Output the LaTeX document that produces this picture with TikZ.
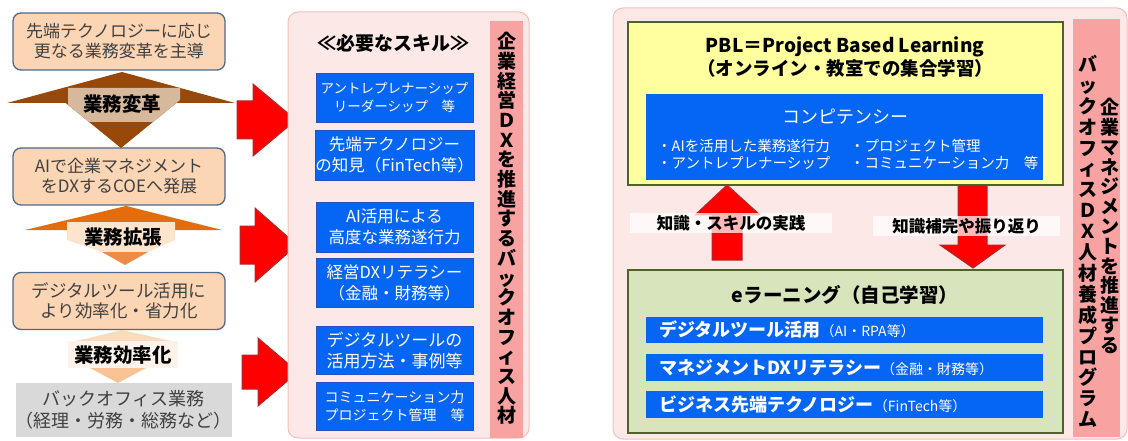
\documentclass[tikz,border=0pt]{standalone}
\usepackage{fontspec}
\setmainfont{Noto Sans CJK JP}
\definecolor{peach}{RGB}{252,213,180}
\definecolor{boxborder}{RGB}{79,105,140}
\definecolor{darktext}{RGB}{64,64,64}
\definecolor{brownA}{RGB}{152,72,8}
\definecolor{tanA}{RGB}{214,184,156}
\definecolor{orangeA}{RGB}{228,108,10}
\definecolor{orangeB}{RGB}{236,140,70}
\definecolor{lightpeach}{RGB}{253,228,205}
\definecolor{paleA}{RGB}{251,218,190}
\definecolor{paleB}{RGB}{254,243,235}
\definecolor{paleC}{RGB}{250,195,150}
\definecolor{grayfill}{RGB}{217,217,217}
\definecolor{arrowred}{RGB}{255,0,0}
\definecolor{arrowborder}{RGB}{175,40,40}
\definecolor{pinkpanel}{RGB}{253,232,232}
\definecolor{pinkborder}{RGB}{244,190,190}
\definecolor{pinkbar}{RGB}{249,162,162}
\definecolor{skillblue}{RGB}{5,102,245}
\definecolor{blueborder}{RGB}{40,80,190}
\definecolor{pblyellow}{RGB}{255,255,160}
\definecolor{olivec}{RGB}{79,98,40}
\definecolor{greenfill}{RGB}{216,228,188}
\newcommand{\fsz}[2]{\fontsize{#1}{#2}\selectfont}
\begin{document}
\begin{tikzpicture}[x=1pt,y=-1pt,
  lbox/.style={draw=boxborder, line width=1.3pt, fill=peach, rounded corners=8pt,
    minimum width=212pt, minimum height=57pt, align=center, text=darktext, inner sep=0pt},
  graybox/.style={fill=grayfill, minimum width=213pt, minimum height=54pt, align=center,
    text=darktext, inner sep=0pt},
  armlabel/.style={font=\bfseries\fsz{19.5}{22}, text=black, inner sep=0pt},
  panel/.style={fill=pinkpanel, draw=pinkborder, line width=1pt, rounded corners=10pt, inner sep=0pt},
  vbar/.style={fill=pinkbar, inner sep=0pt},
  vtxt/.style={align=center, inner sep=0pt, font=\bfseries\fsz{19}{19.7}, text=black},
  bluebox/.style={fill=skillblue, draw=blueborder, line width=0.5pt, minimum width=157pt,
    minimum height=49pt, align=center, text=white, inner sep=0pt},
  redarrow/.style={fill=arrowred, draw=arrowborder, line width=1pt, line join=miter},
  olivebox/.style={draw=olivec, line width=2pt, minimum width=435pt, minimum height=163pt, inner sep=0pt},
  bluebar/.style={fill=skillblue, minimum height=27pt, text width=371pt, inner xsep=13pt,
    inner ysep=0pt, align=left, text=white},
  klabel/.style={fill=white, fill opacity=0.72, text opacity=1, font=\bfseries\fsz{16.5}{18},
    text=black, inner sep=0pt}
]
\useasboundingbox (0,0) rectangle (1128,441);

% ---------------- left column ----------------
\node[lbox, font=\fsz{17}{20}] (b1) at (119,41.5) {先端テクノロジーに応じ\\更なる業務変革を主導};
\node[lbox, font=\fsz{17}{20}] (b2) at (119,176.5) {AIで企業マネジメント\\をDXするCOEへ発展};
\node[lbox, font=\fsz{17.5}{20.5}] (b3) at (119,301) {デジタルツール活用に\\より効率化・省力化};
\node[graybox, font=\fsz{18}{22}] (b4) at (123.5,410) {バックオフィス業務\\（経理・労務・総務など）};

% group 1 (brown)
\fill[brownA] (7,103) -- (122,72) -- (235,103) -- cycle;
\fill[brownA] (62,100) -- (180,100) -- (121,148) -- cycle;
\fill[tanA] (68,88) -- (180,88) -- (180,100) -- (153,122) -- (89,122) -- (68,105) -- cycle;
\node[armlabel] (t1) at (122,104) {業務変革};

% group 2 (orange)
\fill[orangeA] (25,230) -- (126,206) -- (222,230) -- cycle;
\fill[lightpeach] (67,222) -- (175,222) -- (175,240) -- (148,252) -- (102,252) -- (67,240) -- cycle;
\fill[orangeB] (102,252) -- (148,252) -- (125,265) -- cycle;
\node[armlabel] (t2) at (123,237) {業務拡張};

% group 3 (pale)
\fill[paleA] (72,342) -- (122,330) -- (176,342) -- cycle;
\fill[paleB] (68,341) rectangle (178,368);
\fill[paleC] (90,368) -- (146,368) -- (118,383) -- cycle;
\node[armlabel] (t3) at (123,355) {業務効率化};

% red right arrows
\draw[redarrow] (237,101) -- (253,101) -- (253,84) -- (296,120) -- (253,156) -- (253,139) -- (237,139) -- cycle;
\draw[redarrow] (240,226) -- (255,226) -- (255,208) -- (297,245) -- (255,282) -- (255,264) -- (240,264) -- cycle;
\draw[redarrow] (242,355) -- (258,355) -- (258,338) -- (298,372) -- (258,406) -- (258,389) -- (242,389) -- cycle;

% ---------------- middle panel ----------------
\node[panel, minimum width=241pt, minimum height=426pt] (mp) at (408.5,225) {};
\node[vbar, minimum width=33pt, minimum height=416pt] (mbar) at (506.5,229.5) {};
\node[vtxt] (mbartxt) at (506.5,228.5) {企\\業\\経\\営\\Ｄ\\Ｘ\\を\\推\\進\\す\\る\\バ\\ッ\\ク\\オ\\フ\\ィ\\ス\\人\\材};
\node[font=\bfseries\fsz{19}{22}, inner sep=0pt] (skills) at (393,43) {≪必要なスキル≫};

\node[bluebox, font=\fsz{13.5}{18}] (s1) at (394.5,97.5) {アントレプレナーシップ\\リーダーシップ　等};
\node[bluebox, font=\fsz{16.5}{21}, minimum height=50pt] (s2) at (394.5,155) {先端テクノロジー\\の知見（FinTech等）};
\node[bluebox, font=\fsz{16.5}{21}, minimum height=50pt] (s3) at (394.5,227) {AI活用による\\高度な業務遂行力};
\node[bluebox, font=\fsz{16.5}{21}] (s4) at (394.5,282.5) {経営DXリテラシー\\（金融・財務等）};
\node[bluebox, font=\fsz{17}{21}, minimum height=48pt] (s5) at (394.5,350) {デジタルツールの\\活用方法・事例等};
\node[bluebox, font=\fsz{14}{18}, minimum height=48pt] (s6) at (394.5,406) {コミュニケーション力\\プロジェクト管理　等};

% ---------------- right panel ----------------
\node[panel, minimum width=514pt, minimum height=431pt] (rp) at (870,223.5) {};
\node[vbar, minimum width=47pt, minimum height=418pt] (rbar) at (1096.5,228) {};
\node[vtxt, font=\bfseries\fsz{19}{20.9}] (rbarL) at (1088,241.5) {バ\\ッ\\ク\\オ\\フ\\ィ\\ス\\Ｄ\\Ｘ\\人\\材\\養\\成\\プ\\ロ\\グ\\ラ\\ム};
\node[vtxt, font=\bfseries\fsz{19}{19.8}] (rbarR) at (1110,226) {企\\業\\マ\\ネ\\ジ\\メ\\ン\\ト\\を\\推\\進\\す\\る};

% PBL box
\node[olivebox, fill=pblyellow] (pbl) at (845.5,103.5) {};
\node[font=\bfseries\fsz{19}{21}, inner sep=0pt] (pblt1) at (845,47) {PBL＝Project Based Learning};
\node[font=\bfseries\fsz{18.5}{21}, inner sep=0pt] (pblt2) at (845,68) {（オンライン・教室での集合学習）};
\node[fill=skillblue, minimum width=397pt, minimum height=86pt, inner sep=0pt] (comp) at (844.5,137) {};
\node[font=\fsz{18}{20}, text=white, inner sep=0pt] (compt) at (845,117) {コンピテンシー};
\node[font=\fsz{14.5}{17}, text=white, align=left, anchor=west, inner sep=0pt] (compL) at (657,154.5) {・AIを活用した業務遂行力\\・アントレプレナーシップ};
\node[font=\fsz{14.5}{17}, text=white, align=left, anchor=west, inner sep=0pt] (compR) at (850,154.5) {・プロジェクト管理\\・コミュニケーション力　等};

% e-learning box
\node[olivebox, fill=greenfill] (el) at (845.5,351.5) {};
\node[font=\bfseries\fsz{19.5}{22}, inner sep=0pt] (elt) at (845,295) {eラーニング（自己学習）};
\node[bluebar, minimum height=26pt] (e1) at (844.5,330) {{\bfseries\fsz{18}{20}デジタルツール活用}{\fsz{14}{16}（AI・RPA等）}};
\node[bluebar] (e2) at (844.5,367.5) {{\bfseries\fsz{18}{20}マネジメントDXリテラシー}{\fsz{14}{16}（金融・財務等）}};
\node[bluebar] (e3) at (844.5,404.5) {{\bfseries\fsz{18}{20}ビジネス先端テクノロジー}{\fsz{14}{16}（FinTech等）}};

% up/down arrows
\draw[redarrow] (712,260) -- (712,215) -- (695,215) -- (727,185) -- (760,215) -- (742,215) -- (742,260) -- cycle;
\draw[redarrow] (958,186) -- (987,186) -- (987,245) -- (1005,245) -- (973,268) -- (940,245) -- (958,245) -- cycle;
\node[klabel, minimum width=202pt, minimum height=20pt] (k1) at (731,223) {知識・スキルの実践};
\node[klabel, minimum width=187pt, minimum height=19pt] (k2) at (966.5,226) {知識補完や振り返り};
\end{tikzpicture}
\end{document}
